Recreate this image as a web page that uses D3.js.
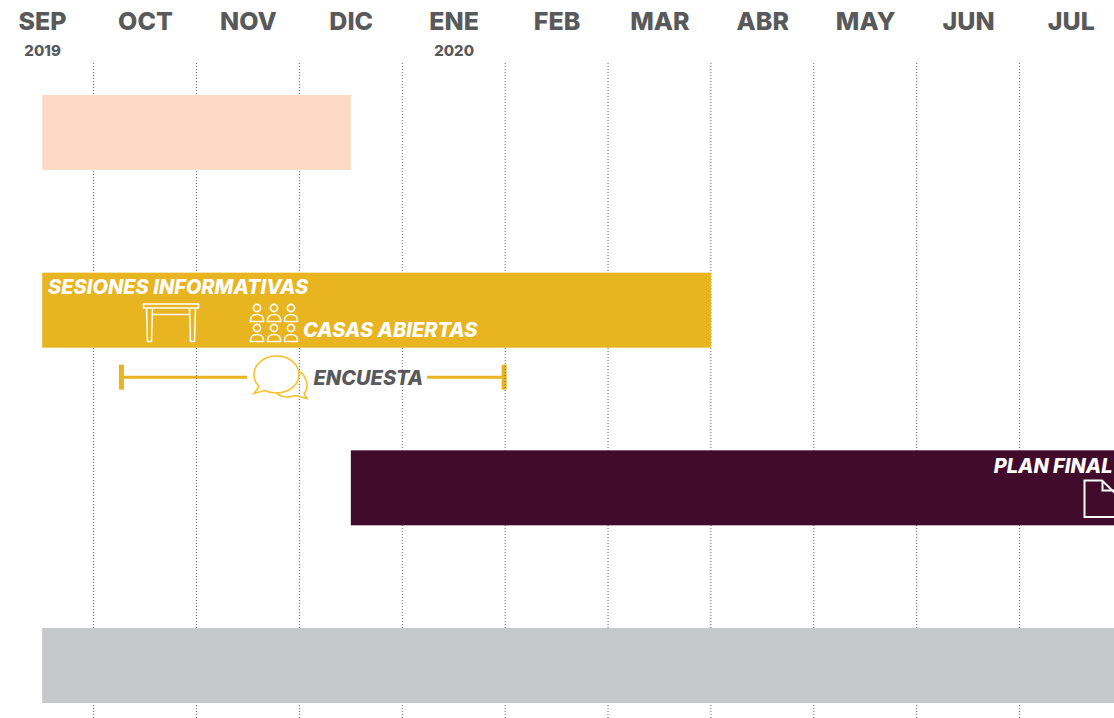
<!DOCTYPE html>
<html>
<head>
<meta charset="utf-8">
<script src="https://cdn.jsdelivr.net/npm/d3@7"></script>
<style>
    html, body { margin: 0; padding: 0; background: #fff; overflow: hidden; }
    text { font-family: "Inter", "Open Sans", sans-serif; }
</style>
</head>
<body>
<div id="chart"></div>
<script>
// Month header and year labels
const months = ['SEP', 'OCT', 'NOV', 'DIC', 'ENE', 'FEB', 'MAR', 'ABR', 'MAY', 'JUN', 'JUL'];
const years = ['2019', '2020'];
const yearMonths = [0, 4];
const gridMonths = [0.5, 1.5, 2.5, 3.5, 4.5, 5.5, 6.5, 7.5, 8.5, 9.5];

// Bars: start and end are in months since SEP 2019
const rows = ['a', 'b', 'c', 'd'];
const barStarts = [0, 0, 3, 0];
const barEnds = [3, 6.5, 11, 11];
const barColors = ['#fddac5', '#e8b41f', '#410b2c', '#c7c8ca'];

// Encuesta range
const surveyStart = 0.77;
const surveyEnd = 4.49;

const width = 1114;
const height = 718;
const gray = '#58595b';
const gold = '#e8b41f';

const svg = d3.select('#chart')
    .append('svg')
    .attr('width', width)
    .attr('height', height)
    .style('display', 'block');

const x = d3.scaleLinear()
    .domain([0, 10])
    .range([42.2, 1071]);

const y = d3.scaleBand()
    .domain(rows)
    .range([95, 703 + 102.67])
    .paddingInner(0)
    .paddingOuter(0);

const barHeight = 75;

// Survey line sits under the grid
const surveyY = y('b') + barHeight + 29.5;
svg.append('g').selectAll('line')
    .data([[surveyStart, x.invert(247)], [x.invert(427), surveyEnd]])
    .join('line')
    .attr('x1', d => x(d[0]))
    .attr('x2', d => x(d[1]))
    .attr('y1', surveyY)
    .attr('y2', surveyY)
    .attr('stroke', gold)
    .attr('stroke-width', 3);

svg.append('g').selectAll('rect')
    .data([surveyStart, surveyEnd])
    .join('rect')
    .attr('x', d => x(d) - 2.5)
    .attr('y', surveyY - 12.5)
    .attr('width', 5)
    .attr('height', 25)
    .attr('fill', gold);

// Grid
const grid = svg.append('g')
    .attr('transform', 'translate(0,63)')
    .call(d3.axisBottom(x)
        .tickValues(gridMonths)
        .tickSize(655)
        .offset(0)
        .tickFormat(''));
grid.select('.domain').remove();
grid.selectAll('line')
    .attr('stroke', gray)
    .attr('stroke-width', 0.9)
    .attr('stroke-dasharray', '1,2');

// Month labels
const header = svg.append('g')
    .attr('transform', 'translate(0,30)')
    .call(d3.axisTop(x)
        .tickValues(d3.range(months.length))
        .tickSize(0)
        .tickPadding(0)
        .offset(0.4)
        .tickFormat(i => months[i]));
header.select('.domain').remove();
header.attr('font-family', null);
header.selectAll('text')
    .attr('y', 0)
    .attr('dy', 0)
    .attr('fill', gray)
    .attr('font-size', 25)
    .attr('font-weight', 800)
    .attr('letter-spacing', 0);

// Year labels
svg.append('g').selectAll('text')
    .data(years)
    .join('text')
    .attr('x', (d, i) => x(yearMonths[i]) + 0.4)
    .attr('y', 56)
    .attr('text-anchor', 'middle')
    .attr('fill', gray)
    .attr('font-size', 15)
    .attr('font-weight', 800)
    .text(d => d);

// Bars
svg.append('g').selectAll('rect')
    .data(rows)
    .join('rect')
    .attr('x', (d, i) => x(barStarts[i]))
    .attr('y', d => y(d))
    .attr('width', (d, i) => x(barEnds[i]) - x(barStarts[i]))
    .attr('height', barHeight)
    .attr('fill', (d, i) => barColors[i]);

// Labels inside and next to the bars
function label(text, px, py, color, anchor) {
    svg.append('text')
        .attr('x', px)
        .attr('y', py)
        .attr('text-anchor', anchor || 'start')
        .attr('fill', color)
        .attr('font-size', 20)
        .attr('font-weight', 800)
        .attr('font-style', 'italic')
        .attr('letter-spacing', 0)
        .text(text);
}
label('SESIONES INFORMATIVAS', 48, 294, '#fff');
label('CASAS ABIERTAS', 303, 337, '#fff');
label('ENCUESTA', 313.5, 385, gray);
label('PLAN FINAL', 1112.5, 473, '#fff', 'end');

// Table icon
const table = svg.append('g')
    .attr('fill', 'none')
    .attr('stroke', '#fff')
    .attr('stroke-width', 1.5);
table.append('rect')
    .attr('x', 143.5).attr('y', 304)
    .attr('width', 55).attr('height', 4);
table.append('path').attr('d', 'M146.5,308L147.5,341.5H151.5L152.5,308');
table.append('path').attr('d', 'M189.5,308L190.5,341.5H194.5L195.5,308');
table.append('path').attr('d', 'M152.5,314.5H189.5');

// People icon
const people = svg.append('g')
    .attr('fill', 'none')
    .attr('stroke', '#fff')
    .attr('stroke-width', 1.6);
[257, 274, 291].forEach(px => {
    [308, 328].forEach(py => {
        people.append('circle')
            .attr('cx', px).attr('cy', py).attr('r', 3.6);
        people.append('path')
            .attr('d', `M${px - 6.5},${py + 13.5}V${py + 12}C${px - 6.5},${py + 8.5} ${px - 3.5},${py + 6.5} ${px},${py + 6.5}C${px + 3.5},${py + 6.5} ${px + 6.5},${py + 8.5} ${px + 6.5},${py + 12}V${py + 13.5}Z`);
    });
});

// Speech bubbles icon
const bubbles = svg.append('g')
    .attr('fill', 'none')
    .attr('stroke', '#fbc02d')
    .attr('stroke-width', 1.6);
bubbles.append('path')
    .attr('d', 'M298.5,371C302,373 307,378 307,385C307,389 305.5,392 304,393.5L307,398.5L295,395.5C288,398 281,397 276.5,393.2');
bubbles.append('path')
    .attr('d', 'M276.5,356C289,356 299,364 299,374.5C299,385 289,393 276.5,393C272,393 268,392 264.5,390.5L254,393.5L259,386.5C255.5,383 254,379 254,374.5C254,364 264,356 276.5,356Z');

// Document icon
svg.append('path')
    .attr('d', 'M1116,494L1102,480.5H1084.5V517H1116M1102.5,481V490.5H1116')
    .attr('fill', 'none')
    .attr('stroke', '#fff')
    .attr('stroke-width', 2);
</script>
</body>
</html>
